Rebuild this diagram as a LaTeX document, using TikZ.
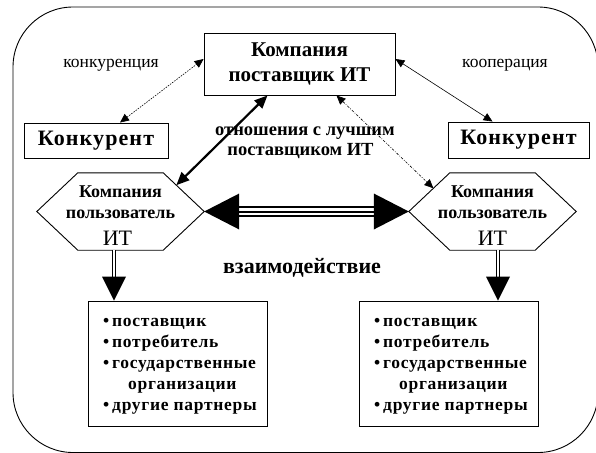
\documentclass[tikz,border=0pt]{standalone}
\usepackage{fontspec}
\setmainfont{Liberation Serif}
\usetikzlibrary{arrows.meta,calc}
\tikzset{
  box/.style={draw, line width=0.9pt, inner sep=0pt, align=center},
  titletext/.style={font=\bfseries\fontsize{21}{25}\selectfont},
  rivaltext/.style={font=\bfseries\fontsize{22}{26}\selectfont\addfontfeatures{LetterSpace=5}},
  hexbold/.style={font=\bfseries\fontsize{18}{21}\selectfont, inner sep=0pt, anchor=base},
  hexit/.style={font=\fontsize{22}{26}\selectfont, inner sep=0pt, anchor=base},
  relbold/.style={font=\bfseries\fontsize{18.5}{21}\selectfont, inner sep=0pt, anchor=base},
  thinlabel/.style={font=\fontsize{17.5}{21}\selectfont, inner sep=0pt},
  listtext/.style={font=\bfseries\fontsize{17.5}{21}\selectfont\addfontfeatures{LetterSpace=4}, inner sep=0pt, anchor=base west},
  thintip/.style={{Triangle[length=9pt,width=8pt]}-{Triangle[length=9pt,width=8pt]}, line width=0.6pt},
}
\begin{document}
\begin{tikzpicture}[x=1pt,y=-1pt]
\useasboundingbox (0,0) rectangle (596,452);
\begin{scope}
\clip (0,0) rectangle (596,452);
\draw[line width=0.9pt, rounded corners=60pt] (13,7) rectangle (598,452.5);
\end{scope}

% top box
\node[box, titletext, minimum width=191pt, minimum height=62pt] (top) at (299.5,64) {Компания\\поставщик ИТ};
% rivals
\node[box, rivaltext, minimum width=144pt, minimum height=35pt] (kl) at (96,140.5) {Конкурент};
\node[box, rivaltext, minimum width=141pt, minimum height=36pt] (kr) at (518.5,140) {Конкурент};

% hexagons
\node[minimum width=167pt, minimum height=77pt, inner sep=0pt] (hexL) at (120.5,211.5) {};
\node[minimum width=167pt, minimum height=77pt, inner sep=0pt] (hexR) at (492.5,211.5) {};
\coordinate (hLnw) at ($(hexL.north west)+(41pt,0pt)$);
\coordinate (hLne) at ($(hexL.north east)+(-41pt,0pt)$);
\coordinate (hLse) at ($(hexL.south east)+(-41pt,0pt)$);
\coordinate (hLsw) at ($(hexL.south west)+(41pt,0pt)$);
\coordinate (hRnw) at ($(hexR.north west)+(41pt,0pt)$);
\coordinate (hRne) at ($(hexR.north east)+(-41pt,0pt)$);
\coordinate (hRse) at ($(hexR.south east)+(-41pt,0pt)$);
\coordinate (hRsw) at ($(hexR.south west)+(41pt,0pt)$);
\draw[line width=0.9pt] (hexL.west) -- (hLnw) -- (hLne) -- (hexL.east) -- (hLse) -- (hLsw) -- cycle;
\draw[line width=0.9pt] (hexR.west) -- (hRnw) -- (hRne) -- (hexR.east) -- (hRse) -- (hRsw) -- cycle;
\node[hexbold] (hLa) at (120.5,197) {Компания};
\node[hexbold] (hLb) at (120.5,218) {пользователь};
\node[hexit] (hLc) at (117.5,245) {ИТ};
\node[hexbold] (hRa) at (492.5,197) {Компания};
\node[hexbold] (hRb) at (492.5,218) {пользователь};
\node[hexit] (hRc) at (492.5,245) {ИТ};

% lists
\node[box, minimum width=179pt, minimum height=125pt] (listL) at (177.5,363.5) {};
\node[box, minimum width=179pt, minimum height=125pt] (listR) at (448.5,363.5) {};
\node[listtext] (tL) at (103,326) {\begin{tabular}[t]{@{}p{9pt}@{}l@{}}
•&поставщик\\ •&потребитель\\ •&государственные\\ &\hspace{16pt}организации\\ •&другие партнеры\end{tabular}};
\node[listtext] (tR) at (374,326) {\begin{tabular}[t]{@{}p{9pt}@{}l@{}}
•&поставщик\\ •&потребитель\\ •&государственные\\ &\hspace{16pt}организации\\ •&другие партнеры\end{tabular}};

% labels
\node[thinlabel] (lk) at (111,65) {конкуренция};
\node[thinlabel] (lc) at (505,65) {кооперация};
\node[relbold] (r1) at (305,135) {отношения с лучшим};
\node[relbold] (r2) at (300.5,155) {поставщиком ИТ};
\node[font=\bfseries\fontsize{22}{26}\selectfont, inner sep=0pt, anchor=base] (vz) at (302,273) {взаимодействие};

% thin connectors
\draw[thintip, dash pattern=on 1.5pt off 1.2pt] ([xshift=24pt]kl.north) -- ([yshift=5pt]top.west);
\draw[thintip] ([xshift=-26pt]kr.north) -- ([yshift=5pt]top.east);
% thick connector
\coordinate (pL) at ($(hLne)!0.32!(hexL.east)$);
\draw[{Triangle[length=13pt,width=11pt]}-{Triangle[length=13pt,width=11pt]}, line width=2.2pt] ([xshift=-32pt]top.south) -- (pL);
% dash-dot connector
\coordinate (pR) at ($(hexR.west)!0.6!(hRnw)$);
\draw[thintip, dash pattern=on 2.5pt off 1.5pt on 0.7pt off 1.5pt] ([xshift=37pt]top.south) -- (pR);

% interaction arrow
\draw[line width=11pt, shorten <=33pt, shorten >=33pt] (hexL.east) -- (hexR.west);
\draw[white, line width=7pt, shorten <=32pt, shorten >=32pt] (hexL.east) -- (hexR.west);
\draw[line width=2pt, shorten <=33pt, shorten >=33pt] (hexL.east) -- (hexR.west);
\fill (hexL.east) -- ++(35,-18) -- ++(0,36) -- cycle;
\fill (hexR.west) -- ++(-35,-18) -- ++(0,36) -- cycle;

% vertical arrows
\coordinate (aL) at ([xshift=-6.5pt]hexL.south);
\coordinate (bL) at (aL |- listL.north);
\draw[double, double distance=2.5pt, line width=1pt] (aL) -- ($(bL)+(0,-23)$);
\fill (bL) -- ++(-12,-24) -- ++(24,0) -- cycle;
\coordinate (aR) at ([xshift=5.5pt]hexR.south);
\coordinate (bR) at (aR |- listR.north);
\draw[double, double distance=2.5pt, line width=1pt] (aR) -- ($(bR)+(0,-23)$);
\fill (bR) -- ++(-12,-24) -- ++(24,0) -- cycle;
\end{tikzpicture}
\end{document}
